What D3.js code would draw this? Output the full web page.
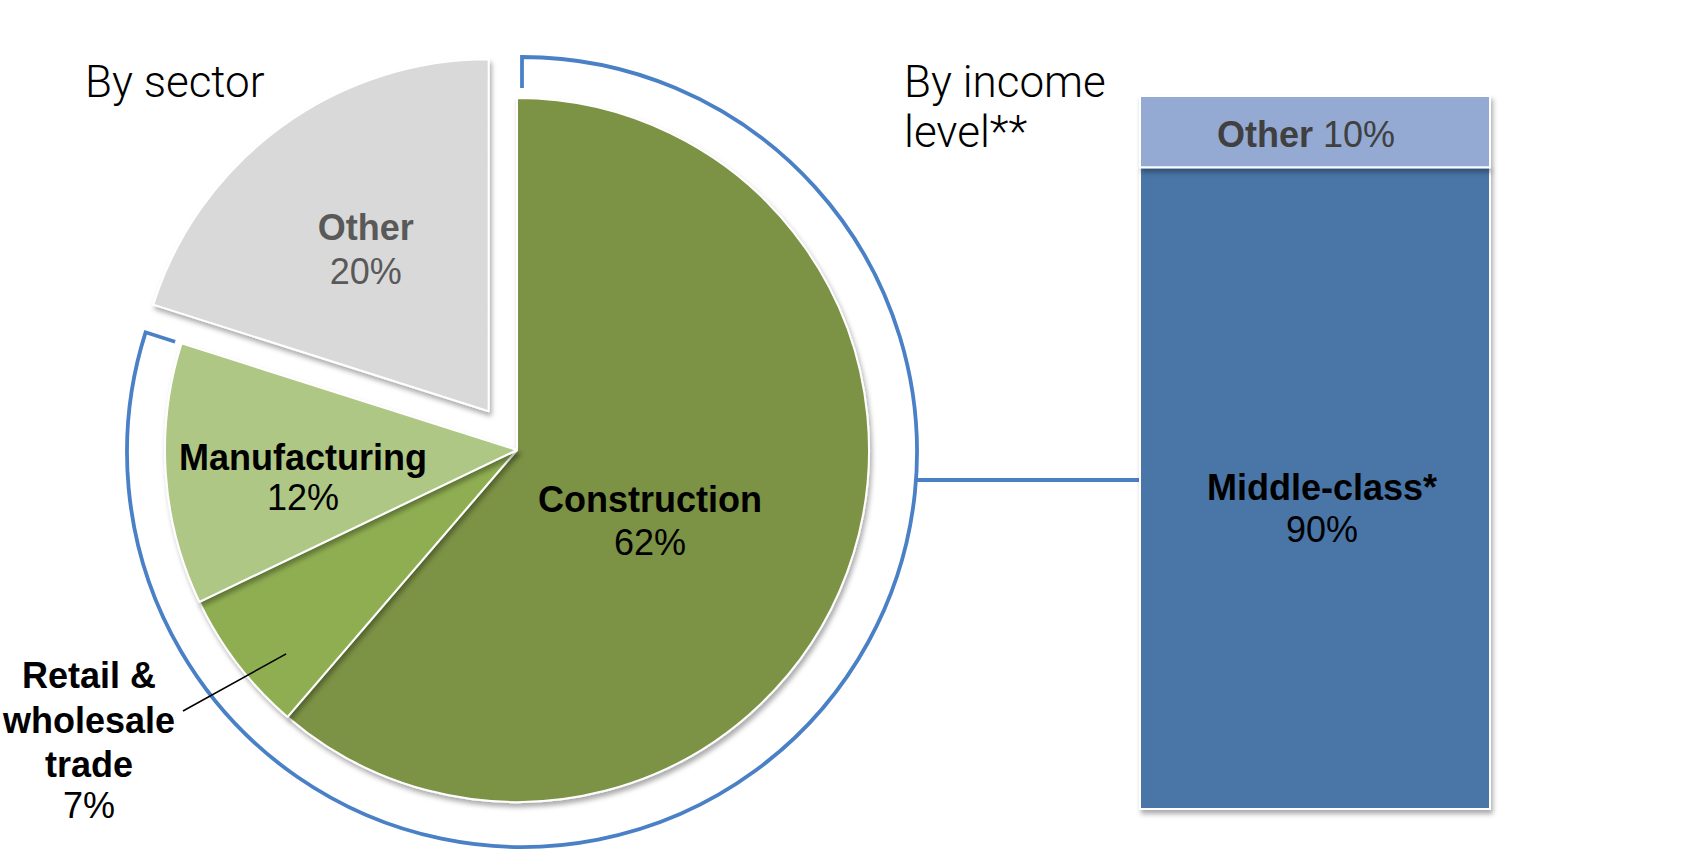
<!DOCTYPE html>
<html>
<head>
<meta charset="utf-8">
<script src="https://cdn.jsdelivr.net/npm/d3@7"></script>
<style>
  html, body { margin: 0; padding: 0; background: #fff; }
  svg { display: block; }
</style>
</head>
<body>
<svg id="chart" width="1708" height="864"></svg>
<script>
// ---------------- DATA ----------------
const sectorNames   = ["Construction", "Retail & wholesale trade", "Manufacturing", "Other"];
const sectorValues  = [61.3, 6.6, 12.0, 20.1];          // slice sizes as drawn
const sectorPct     = ["62%", "7%", "12%", "20%"];      // printed labels
const sectorColors  = ["#7b9244", "#8fae51", "#afc784", "#d9d9d9"];

const incomeNames   = ["Middle-class*", "Other"];
const incomeValues  = [90, 10];
const incomePct     = ["90%", "10%"];
const incomeColors  = ["#4874a7", "#94aad2"];

const titles = ["By sector", "By income", "level**"];

// ---------------- LAYOUT ----------------
const svg = d3.select("#chart");
const cx = 517, cy = 450, R = 352;
const explode = 48;
const blue = "#4a80c6";
const boldFont = "'Liberation Sans', Arial, Helvetica, sans-serif";
const lightFont = "Roboto, 'Liberation Sans', Arial, sans-serif";

const defs = svg.append("defs");
const f = defs.append("filter").attr("id", "shadow")
  .attr("x", "-20%").attr("y", "-20%").attr("width", "140%").attr("height", "140%");
f.append("feDropShadow").attr("dx", 2).attr("dy", 4).attr("stdDeviation", 2.5)
  .attr("flood-color", "#000").attr("flood-opacity", 0.33);

// ---------------- PIE ----------------
const sectors = sectorNames.map((n, i) => ({ name: n, value: sectorValues[i], pct: sectorPct[i], color: sectorColors[i] }));
const pie = d3.pie().sort(null).value(d => d.value).startAngle(0).endAngle(2 * Math.PI);
const arcs = pie(sectors);
const arcGen = d3.arc().innerRadius(0).outerRadius(R);

function offsetFor(a) {
  if (a.data.name !== "Other") return [0, 0];
  const mid = (a.startAngle + a.endAngle) / 2;
  return [Math.sin(mid) * explode, -Math.cos(mid) * explode];
}

const pieG = svg.append("g");
pieG.selectAll("path.slice").data(arcs).join("path")
  .attr("class", "slice")
  .attr("transform", d => { const o = offsetFor(d); return `translate(${cx + o[0]},${cy + o[1]})`; })
  .attr("d", arcGen)
  .attr("fill", d => d.data.color)
  .attr("stroke", "#fff")
  .attr("stroke-width", 2)
  .attr("stroke-linejoin", "round")
  .attr("filter", "url(#shadow)");

// ---------------- BRACKET ARC ----------------
const bcx = cx + 5, bcy = cy + 2, bR = 395, tick = 31;
const a0 = arcs[0].startAngle;              // start of Construction
const a1 = arcs[2].endAngle;                // end of Manufacturing
const pt = (a, r) => [bcx + Math.sin(a) * r, bcy - Math.cos(a) * r];
const bracketPath = d3.path();
const p0 = pt(a0, bR - tick), p1 = pt(a0, bR);
bracketPath.moveTo(p0[0], p0[1]);
bracketPath.lineTo(p1[0], p1[1]);
bracketPath.arc(bcx, bcy, bR, a0 - Math.PI / 2, a1 - Math.PI / 2, false);
const p2 = pt(a1, bR - tick);
bracketPath.lineTo(p2[0], p2[1]);
svg.append("path").attr("d", bracketPath.toString())
  .attr("fill", "none").attr("stroke", blue).attr("stroke-width", 3.8);

// ---------------- BAR ----------------
const barX0 = 1140, barX1 = 1490, barTop = 96, barBottom = 809;
const y = d3.scaleLinear().domain([0, d3.sum(incomeValues)]).range([barBottom, barTop]);
const x = d3.scaleLinear().domain([0, 1]).range([barX0, barX1]);
const income = incomeNames.map((n, i) => ({ name: n, value: incomeValues[i], pct: incomePct[i], color: incomeColors[i] }));
let acc = 0;
income.forEach(d => { d.y0 = acc; acc += d.value; d.y1 = acc; });

// connector line from bracket to bar
const connY = 480;
const connX0 = bcx + Math.sqrt(bR * bR - (connY - bcy) * (connY - bcy));
svg.append("line").attr("x1", connX0).attr("x2", x(0)).attr("y1", connY).attr("y2", connY)
  .attr("stroke", blue).attr("stroke-width", 3.8);

svg.append("g").selectAll("rect").data(income).join("rect")
  .attr("x", x(0)).attr("width", x(1) - x(0))
  .attr("y", d => y(d.y1)).attr("height", d => y(d.y0) - y(d.y1))
  .attr("fill", d => d.color)
  .attr("stroke", "#fff").attr("stroke-width", 2)
  .attr("filter", "url(#shadow)");

// ---------------- TEXT ----------------
function addLines(g, lines, xPos, yPos, lh) {
  lines.forEach((ln, i) => {
    g.append("text").attr("x", xPos).attr("y", yPos + i * lh)
      .attr("text-anchor", "middle").attr("font-family", boldFont)
      .attr("font-size", 36).attr("fill", ln.color || "#000")
      .attr("font-weight", ln.bold ? "bold" : "normal")
      .text(ln.text);
  });
}

const lab = svg.append("g");
// label offsets relative to slice vertex (first-line baseline)
const labelOffset = { "Construction": [133, 62], "Manufacturing": [-214, 20], "Other": [-123, -171] };
arcs.forEach(a => {
  const o = offsetFor(a);
  const off = labelOffset[a.data.name];
  if (!off) return;
  const col = a.data.name === "Other" ? "#595959" : "#000";
  const lh = a.data.name === "Construction" ? 43 : (a.data.name === "Other" ? 44 : 40);
  addLines(lab, [{ text: a.data.name, bold: true, color: col }, { text: a.data.pct, color: col }],
    cx + o[0] + off[0], cy + o[1] + off[1], lh);
});

// Retail external label + leader
const retail = arcs[1];
const rMid = (retail.startAngle + retail.endAngle) / 2;
const leadA = [cx + Math.sin(rMid - 0.07) * 308, cy - Math.cos(rMid - 0.07) * 308];
svg.append("line").attr("x1", leadA[0]).attr("y1", leadA[1]).attr("x2", 183).attr("y2", 711)
  .attr("stroke", "#000").attr("stroke-width", 1.6);
addLines(lab, [
  { text: "Retail &", bold: true },
  { text: "wholesale", bold: true },
  { text: "trade", bold: true }
], 89, 688, 44.5);
addLines(lab, [{ text: retail.data.pct }], 89, 818, 0);

// bar labels
const midD = income[0];
addLines(lab, [{ text: midD.name, bold: true }, { text: midD.pct }], 1322, 500, 42);
const othD = income[1];
const ot = lab.append("text").attr("x", 1306).attr("y", 147).attr("text-anchor", "middle")
  .attr("font-family", boldFont).attr("font-size", 36).attr("fill", "#404040");
ot.append("tspan").attr("font-weight", "bold").text(othD.name);
ot.append("tspan").text(" " + othD.pct);

// titles
const tg = svg.append("g").attr("font-family", lightFont).attr("font-weight", 300)
  .attr("font-size", 44).attr("fill", "#000");
tg.append("text").attr("x", 85).attr("y", 97).text(titles[0]);
tg.append("text").attr("x", 904).attr("y", 97).text(titles[1]);
tg.append("text").attr("x", 904).attr("y", 147).text(titles[2]);
</script>
</body>
</html>
